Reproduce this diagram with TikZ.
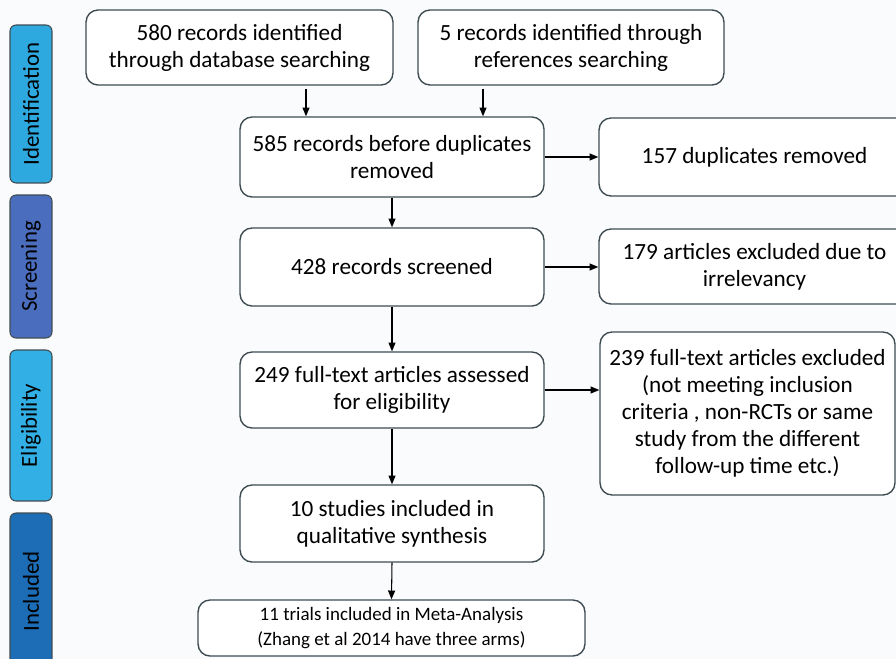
\documentclass[tikz,border=0pt]{standalone}
\usepackage{fontspec}
\setmainfont{Carlito}
\usetikzlibrary{arrows.meta}
\definecolor{bgpage}{HTML}{FAFBFD}
\definecolor{boxline}{HTML}{3E4C52}
\definecolor{idblue}{HTML}{2EA9E0}
\definecolor{scrblue}{HTML}{4B6DBE}
\definecolor{eliblue}{HTML}{32B0E6}
\definecolor{incblue}{HTML}{1C6CB6}
\begin{document}
\begin{tikzpicture}[x=0.02cm, y=-0.02cm,
                    flowbox/.style={draw=boxline, line width=0.8pt, fill=white,
                                    rounded corners=0.24cm, align=center, inner sep=2pt,
                                    font=\fontsize{13.2}{15.4}\selectfont},
                    smallbox/.style={flowbox, font=\fontsize{10.8}{14}\selectfont},
                    stagebar/.style={draw=boxline, line width=0.6pt, rounded corners=0.12cm,
                                     rotate=90, minimum height=0.84cm, inner sep=0pt,
                                     font=\fontsize{13}{15}\selectfont},
                    flowarrow/.style={line width=0.6pt, -{Triangle[length=5pt, width=4pt]}}]
    \useasboundingbox (0,0) rectangle (896,659);
    \clip (0,0) rectangle (896,659);
    \fill[bgpage] (0,0) rectangle (896,659);

    \node[stagebar, fill=idblue, minimum width=3.16cm] (identification) at (31,104) {Identification};
    \node[stagebar, fill=scrblue, minimum width=2.86cm] (screening) at (31,266.5) {Screening};
    \node[stagebar, fill=eliblue, minimum width=3.02cm] (eligibility) at (31,425.5) {Eligibility};
    \node[stagebar, fill=incblue, minimum width=3.14cm] (included) at (31,591.5) {Included};

    \node[flowbox, minimum width=6.14cm, minimum height=1.5cm] (database) at (239.5,47.5)
        {580 records identified\\through database searching};
    \node[flowbox, minimum width=6.12cm, minimum height=1.5cm] (references) at (571,47.5)
        {5 records identified through\\references searching};
    \node[flowbox, minimum width=6.08cm, minimum height=1.6cm] (before) at (392,157)
        {585 records before duplicates\\removed};
    \node[flowbox, minimum width=6.22cm, minimum height=1.56cm] (duplicates) at (754.5,157)
        {157 duplicates removed};
    \node[flowbox, minimum width=6.08cm, minimum height=1.56cm] (screened) at (392,267)
        {428 records screened};
    \node[flowbox, minimum width=6.22cm, minimum height=1.5cm] (irrelevant) at (754.5,266.5)
        {179 articles excluded due to\\irrelevancy};
    \node[flowbox, minimum width=6.08cm, minimum height=1.52cm] (assessed) at (392,390)
        {249 full-text articles assessed\\for eligibility};
    \node[flowbox, minimum width=5.9cm, minimum height=3.26cm] (excluded) at (747.5,413.5)
        {239 full-text articles excluded\\(not meeting inclusion\\criteria , non-RCTs or same\\study from the different\\follow-up time etc.)};
    \node[flowbox, minimum width=6.08cm, minimum height=1.54cm] (qualitative) at (392,523.5)
        {10 studies included in\\qualitative synthesis};
    \node[smallbox, minimum width=7.74cm, minimum height=1.12cm] (meta) at (391.5,628)
        {11 trials included in Meta-Analysis\\(Zhang et al 2014 have three arms)};

    \coordinate (dbdrop) at (306,0);
    \coordinate (refdrop) at (483,0);
    \draw[flowarrow] ([yshift=-0.06cm]database.south -| dbdrop) -- (before.north -| dbdrop);
    \draw[flowarrow] ([yshift=-0.06cm]references.south -| refdrop) -- (before.north -| refdrop);
    \draw[flowarrow] (before.east) -- (duplicates.west);
    \draw[flowarrow] (before.south) -- (screened.north);
    \draw[flowarrow] (screened.east) -- (screened.east -| irrelevant.west);
    \draw[flowarrow] (screened.south) -- (assessed.north);
    \draw[flowarrow] (assessed.east) -- (assessed.east -| excluded.west);
    \draw[flowarrow] (assessed.south) -- (qualitative.north);
    \draw[flowarrow] (qualitative.south) -- (meta.north);
\end{tikzpicture}
\end{document}
